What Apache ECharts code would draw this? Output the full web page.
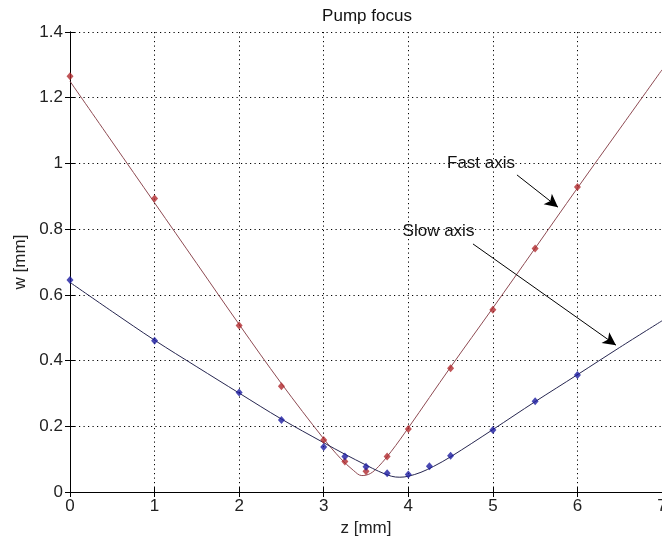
<!DOCTYPE html>
<html>
<head>
<meta charset="utf-8">
<script src="https://cdn.jsdelivr.net/npm/echarts@6/dist/echarts.min.js"></script>
<style>
html,body{margin:0;padding:0;background:#fff;}
#chart{width:662px;height:547px;}
</style>
</head>
<body>
<div id="chart"></div>
<script>
// Measured points
var zMeasured = [0, 1, 2, 2.5, 3, 3.25, 3.5, 3.75, 4, 4.5, 5, 5.5, 6];
var fastMeasured = [1.265, 0.893, 0.507, 0.322, 0.158, 0.093, 0.063, 0.108, 0.192, 0.377, 0.555, 0.741, 0.928];
var zSlow = [0, 1, 2, 2.5, 3, 3.25, 3.5, 3.75, 4, 4.25, 4.5, 5, 5.5, 6];
var slowMeasured = [0.645, 0.46, 0.303, 0.219, 0.137, 0.108, 0.077, 0.057, 0.053, 0.078, 0.11, 0.189, 0.276, 0.356];

// Fitted curves
var zFastFit = [0, 0.5, 1, 1.5, 2, 2.5, 3, 3.2, 3.35, 3.45, 3.55, 3.65, 3.8, 4, 4.5, 5, 5.5, 6, 6.5, 7];
var fastFit = [1.25, 1.065, 0.88, 0.695, 0.51, 0.33, 0.162, 0.102, 0.066, 0.05, 0.056, 0.078, 0.124, 0.195, 0.38, 0.56, 0.742, 0.925, 1.105, 1.285];
var zSlowFit = [0, 0.5, 1, 1.5, 2, 2.5, 3, 3.25, 3.5, 3.65, 3.8, 3.9, 4, 4.15, 4.3, 4.5, 5, 5.5, 6, 6.5, 7];
var slowFit = [0.638, 0.549, 0.462, 0.381, 0.301, 0.222, 0.15, 0.115, 0.082, 0.063, 0.048, 0.045, 0.048, 0.06, 0.078, 0.107, 0.19, 0.275, 0.357, 0.44, 0.521];

// Axis ticks
var xMin = 0, xMax = 7, xStep = 1;
var yMin = 0, yMax = 1.4, yStep = 0.2;

// Annotations [text, textZ, textW, arrowStartZ, arrowStartW, arrowEndZ, arrowEndW]
var annotFast = ['Fast axis', 4.86, 1.001, 5.285, 0.965, 5.77, 0.867];
var annotSlow = ['Slow axis', 4.357, 0.794, 4.765, 0.755, 6.456, 0.447];

function pairs(xs, ys){ return xs.map(function(x,i){ return [x, ys[i]]; }); }

var FONT = '"Liberation Sans", Arial, Helvetica, sans-serif';
var dotted = {color:'#000', width:1, type:[1.2,3.3]};

var chart = echarts.init(document.getElementById('chart'), null, {renderer:'canvas'});
var baseAxisLine = {show:true, lineStyle:{color:'#000', width:1}};
var option = {
  animation:false,
  backgroundColor:'#fff',
  title:{text:'Pump focus', left:362, top:3, textAlign:'center',
    textStyle:{fontFamily:FONT, fontSize:17, fontWeight:'normal', color:'#111'}},
  grid:{left:70, right:0, top:32, bottom:55, containLabel:false, outerBoundsMode:'none'},
  xAxis:[{
    type:'value', min:xMin, max:xMax, interval:xStep, position:'bottom',
    axisLine:baseAxisLine,
    axisTick:{show:true, inside:true, length:5, lineStyle:{color:'#000'}},
    splitLine:{show:true, lineStyle:dotted},
    axisLabel:{fontFamily:FONT, fontSize:17, color:'#222', margin:6, hideOverlap:false},
    name:'z [mm]', nameLocation:'middle', nameGap:27,
    nameTextStyle:{fontFamily:FONT, fontSize:17, color:'#222'}
  },{
    type:'value', min:xMin, max:xMax, interval:xStep, position:'top',
    axisLine:baseAxisLine,
    axisTick:{show:true, inside:true, length:5, lineStyle:{color:'#000'}},
    splitLine:{show:false}, axisLabel:{show:false}
  }],
  yAxis:[{
    type:'value', min:yMin, max:yMax, interval:yStep, position:'left',
    axisLine:baseAxisLine,
    axisTick:{show:true, inside:true, length:5, lineStyle:{color:'#000'}},
    splitLine:{show:true, lineStyle:dotted},
    axisLabel:{fontFamily:FONT, fontSize:17, color:'#222', margin:7},
    name:'w [mm]', nameLocation:'middle', nameGap:39,
    nameTextStyle:{fontFamily:FONT, fontSize:17, color:'#222'}
  },{
    type:'value', min:yMin, max:yMax, interval:yStep, position:'right',
    axisLine:baseAxisLine,
    axisTick:{show:true, inside:true, length:5, lineStyle:{color:'#000'}},
    splitLine:{show:false}, axisLabel:{show:false}
  }],
  series:[
    {type:'line', name:'Fast fit', data:pairs(zFastFit, fastFit), smooth:0.35, showSymbol:false, symbol:'none',
      lineStyle:{color:'#8e4a52', width:1}, z:2,
      markLine:{silent:true, animation:false, lineStyle:{color:'#000', width:1, type:'solid'}, label:{show:false},
        data:[
          [{coord:[annotFast[3], annotFast[4]], symbol:'none'}, {coord:[annotFast[5], annotFast[6]], symbol:'arrow', symbolSize:[10,13]}],
          [{coord:[annotSlow[3], annotSlow[4]], symbol:'none'}, {coord:[annotSlow[5], annotSlow[6]], symbol:'arrow', symbolSize:[10,13]}]
        ]},
      markPoint:{silent:true, animation:false, symbol:'rect', symbolSize:1, itemStyle:{color:'rgba(0,0,0,0)'},
        label:{show:true, position:'inside', formatter:'{b}', fontFamily:FONT, fontSize:17, color:'#111'},
        data:[
          {name:annotFast[0], coord:[annotFast[1], annotFast[2]]},
          {name:annotSlow[0], coord:[annotSlow[1], annotSlow[2]]}
        ]}
    },
    {type:'line', name:'Slow fit', data:pairs(zSlowFit, slowFit), smooth:0.35, showSymbol:false, symbol:'none',
      lineStyle:{color:'#262650', width:1}, z:2},
    {type:'scatter', name:'Fast', data:pairs(zMeasured, fastMeasured), symbol:'diamond', symbolSize:[7,8],
      itemStyle:{color:'#b02a2e'}, z:3},
    {type:'scatter', name:'Slow', data:pairs(zSlow, slowMeasured), symbol:'diamond', symbolSize:[7,8],
      itemStyle:{color:'#1c1ca0'}, z:3}
  ]
};
chart.setOption(option);
</script>
</body>
</html>
